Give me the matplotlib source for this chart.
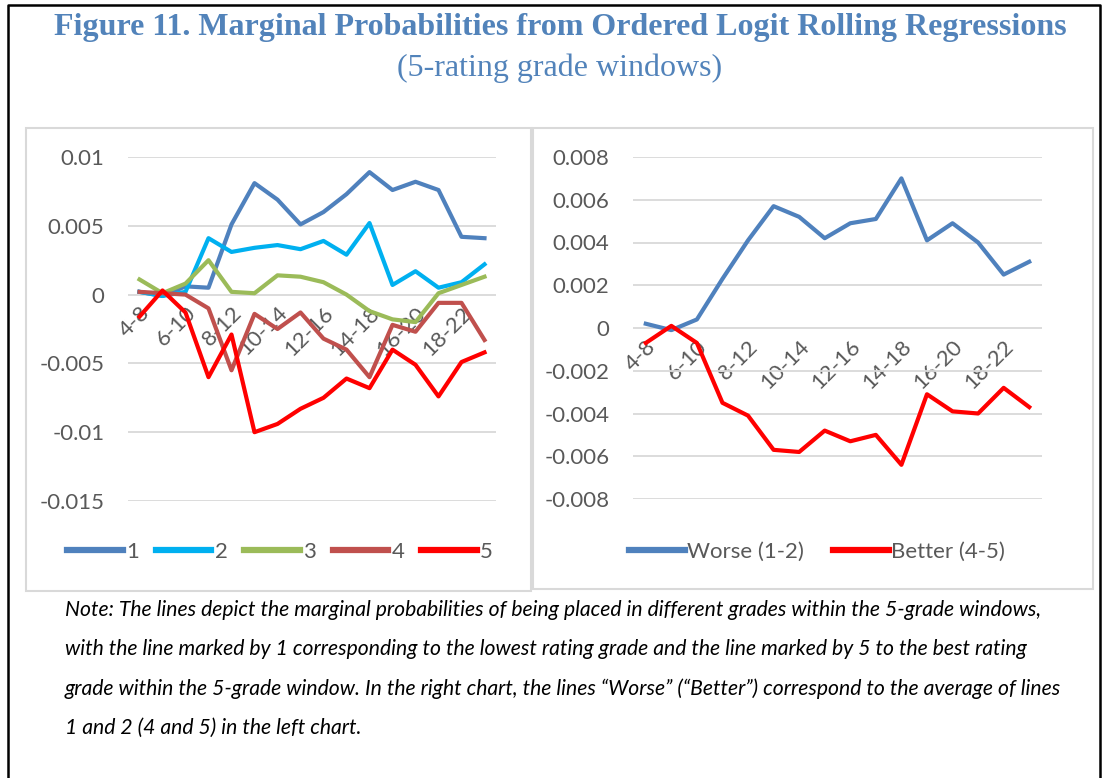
import matplotlib.pyplot as plt
from matplotlib.patches import Rectangle
from matplotlib.lines import Line2D

# Rolling 5-grade windows
windows = ['4-8', '5-9', '6-10', '7-11', '8-12', '9-13', '10-14', '11-15',
           '12-16', '13-17', '14-18', '15-19', '16-20', '17-21', '18-22', '19-23']

# Left chart: marginal probabilities by grade within window
grade1 = [0.0002, -0.0001, 0.0006, 0.0005, 0.0051, 0.0081, 0.0069, 0.0051,
          0.0060, 0.0073, 0.0089, 0.0076, 0.0082, 0.0076, 0.0042, 0.0041]
grade2 = [0.0002, -0.0001, 0.0002, 0.0041, 0.0031, 0.0034, 0.0036, 0.0033,
          0.0039, 0.0029, 0.0052, 0.0007, 0.0017, 0.0005, 0.0009, 0.0022]
grade3 = [0.0011, 0.0001, 0.0008, 0.0025, 0.0002, 0.0001, 0.0014, 0.0013,
          0.0009, 0.0000, -0.0012, -0.0018, -0.0020, 0.0001, 0.0007, 0.0013]
grade4 = [0.0002, 0.0001, 0.0000, -0.0010, -0.0055, -0.0014, -0.0025, -0.0013,
          -0.0032, -0.0040, -0.0060, -0.0022, -0.0027, -0.0006, -0.0006, -0.0033]
grade5 = [-0.0016, 0.0003, -0.0013, -0.0060, -0.0029, -0.0100, -0.0094, -0.0083,
          -0.0075, -0.0061, -0.0068, -0.0040, -0.0051, -0.0074, -0.0049, -0.0042]

# Right chart: averages
worse = [0.0002, -0.0001, 0.0004, 0.0023, 0.0041, 0.0057, 0.0052, 0.0042,
         0.0049, 0.0051, 0.0070, 0.0041, 0.0049, 0.0040, 0.0025, 0.0031]
better = [-0.0007, 0.0001, -0.0007, -0.0035, -0.0041, -0.0057, -0.0058, -0.0048,
          -0.0053, -0.0050, -0.0064, -0.0031, -0.0039, -0.0040, -0.0028, -0.0037]

left_ticks = [0.01, 0.005, 0, -0.005, -0.01, -0.015]
left_ticklabels = ['0.01', '0.005', '0', '-0.005', '-0.01', '-0.015']
right_ticks = [0.008, 0.006, 0.004, 0.002, 0, -0.002, -0.004, -0.006, -0.008]
right_ticklabels = ['0.008', '0.006', '0.004', '0.002', '0', '-0.002', '-0.004', '-0.006', '-0.008']

W, H = 1105, 778
fig = plt.figure(figsize=(W / 100, H / 100), dpi=100)
plt.rcParams['font.family'] = ['Lato', 'DejaVu Sans']
txt_col = '#595959'
grid_col = '#D9D9D9'
fs = 16


def fx(px):
    return px / W


def fy(py):
    return 1 - py / H


def style_axes(ax, ticks, labels, ymin, ymax):
    ax.set_xlim(-0.5, len(windows) - 0.5)
    ax.set_ylim(ymin, ymax)
    ax.set_yticks(ticks)
    ax.set_yticklabels(labels)
    ax.yaxis.grid(True, color=grid_col, linewidth=1.3)
    ax.set_axisbelow(True)
    for s in ['top', 'right', 'left']:
        ax.spines[s].set_visible(False)
    ax.spines['bottom'].set_position(('data', 0))
    ax.spines['bottom'].set_visible(False)
    ax.set_xticks(range(0, len(windows), 2))
    ax.set_xticklabels(windows[::2], rotation=45, ha='right', va='top',
                       rotation_mode='anchor')
    ax.tick_params(axis='both', length=0, labelsize=fs, labelcolor=txt_col)
    ax.tick_params(axis='y', pad=17)
    ax.tick_params(axis='x', pad=6)
    ax.patch.set_alpha(0)


# Left chart
ax1 = fig.add_axes([fx(128), fy(501), fx(496 - 128), (501 - 157) / H])
lw = 3
ax1.plot(range(len(windows)), grade1, color='#4F81BD', lw=lw, label='1')
ax1.plot(range(len(windows)), grade2, color='#00B0F0', lw=lw, label='2')
ax1.plot(range(len(windows)), grade3, color='#9BBB59', lw=lw, label='3')
ax1.plot(range(len(windows)), grade4, color='#C0504D', lw=lw, label='4')
ax1.plot(range(len(windows)), grade5, color='#FF0000', lw=lw, label='5')
style_axes(ax1, left_ticks, left_ticklabels, -0.015, 0.01)

# Right chart
ax2 = fig.add_axes([fx(633), fy(499), fx(1042 - 633), (499 - 157) / H])
ax2.plot(range(len(windows)), worse, color='#4F81BD', lw=lw, label='Worse (1-2)')
ax2.plot(range(len(windows)), better, color='#FF0000', lw=lw, label='Better (4-5)')
style_axes(ax2, right_ticks, right_ticklabels, -0.008, 0.008)

# Legends
leg1 = fig.legend(*ax1.get_legend_handles_labels(), loc='center', ncol=5,
                  bbox_to_anchor=(fx(280), fy(552)), frameon=False, fontsize=fs,
                  handlelength=2.5, handletextpad=0.15, columnspacing=0.75,
                  labelcolor=txt_col)
for h in leg1.legend_handles:
    h.set_linewidth(4.5)
leg2 = fig.legend(*ax2.get_legend_handles_labels(), loc='center', ncol=2,
                  bbox_to_anchor=(fx(817), fy(552)), frameon=False, fontsize=fs,
                  handlelength=2.5, handletextpad=0.1, columnspacing=1.3,
                  labelcolor=txt_col)
for h in leg2.legend_handles:
    h.set_linewidth(4.5)

# Panel boxes
fig.patches.append(Rectangle((fx(26), fy(591)), fx(531 - 26), (591 - 128) / H,
                             transform=fig.transFigure, fill=False,
                             edgecolor=grid_col, lw=1.5))
fig.patches.append(Rectangle((fx(533), fy(589)), fx(1093 - 533), (589 - 128) / H,
                             transform=fig.transFigure, fill=False,
                             edgecolor=grid_col, lw=1.5))

# Outer frame (left, top, right)
fig.lines.append(Line2D([fx(8), fx(8), fx(1100), fx(1100)],
                        [0, fy(5), fy(5), 0], transform=fig.transFigure,
                        color='black', lw=1.8))

# Titles
title_col = '#5283BA'
fig.text(fx(560), fy(28), 'Figure 11. Marginal Probabilities from Ordered Logit Rolling Regressions',
         ha='center', va='center', fontsize=23, fontweight='bold',
         family='Liberation Serif', color=title_col)
fig.text(fx(560), fy(68), '(5-rating grade windows)', ha='center', va='center',
         fontsize=23, family='Liberation Serif', color=title_col)

# Note
note_lines = [
    'Note: The lines depict the marginal probabilities of being placed in different grades within the 5-grade windows,',
    'with the line marked by 1 corresponding to the lowest rating grade and the line marked by 5 to the best rating',
    'grade within the 5-grade window. In the right chart, the lines \u201cWorse\u201d (\u201cBetter\u201d) correspond to the average of lines',
    '1 and 2 (4 and 5) in the left chart.',
]
for i, line in enumerate(note_lines):
    fig.text(fx(65), fy(610 + i * 39.3), line, ha='left', va='center',
             fontsize=15.2, style='italic', color='black')

plt.savefig('out.png', dpi=100)
